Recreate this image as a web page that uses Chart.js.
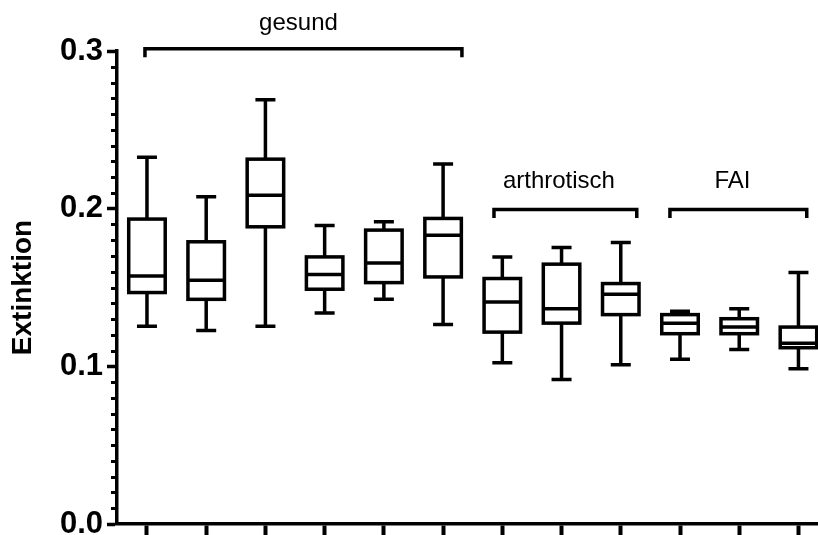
<!DOCTYPE html>
<html>
<head>
<meta charset="utf-8">
<script src="https://cdn.jsdelivr.net/npm/chart.js@4/dist/chart.umd.min.js"></script>
<style>
html,body{margin:0;padding:0;background:#fff;overflow:hidden;}
canvas{display:block;}
</style>
</head>
<body>
<canvas id="c" width="818" height="535"></canvas>
<script>
// ---- data ----
const categories = ['gesund 1','gesund 2','gesund 3','gesund 4','gesund 5','gesund 6',
                    'arthrotisch 1','arthrotisch 2','arthrotisch 3',
                    'FAI 1','FAI 2','FAI 3'];
const whiskerMax = [0.2326,0.2076,0.2691,0.1894,0.1917,0.2284,0.1694,0.1754,0.1786,0.1349,0.1366,0.1595];
const q3Values   = [0.1934,0.1790,0.2314,0.1694,0.1864,0.1938,0.1557,0.1648,0.1525,0.1328,0.1302,0.1249];
const medians    = [0.1573,0.1546,0.2085,0.1582,0.1656,0.1832,0.1408,0.1366,0.1457,0.1274,0.1249,0.1147];
const q1Values   = [0.1468,0.1425,0.1885,0.1489,0.1531,0.1567,0.1217,0.1274,0.1328,0.1207,0.1207,0.1118];
const whiskerMin = [0.1255,0.1228,0.1255,0.1338,0.1425,0.1266,0.1022,0.0916,0.1010,0.1045,0.1107,0.0984];
const yTickValues = [0, 0.1, 0.2, 0.3];
const groupNames = ['gesund', 'arthrotisch', 'FAI'];

// ---- layout of group brackets (x in category units, y in axis units) ----
const groupLayout = [
  {x1: 0.966, x2: 6.318, y: 0.3015, labelX: 3.558, labelY: 0.3133},
  {x1: 6.859, x2: 9.27,  y: 0.1995, labelX: 7.956, labelY: 0.2131},
  {x1: 9.83,  x2: 12.14, y: 0.1995, labelX: 10.885, labelY: 0.2131}
];

const FONT = "'Liberation Sans', Arial, Helvetica, sans-serif";
const LW = 3.5;
Chart.defaults.font.family = FONT;
Chart.defaults.color = '#000';

const boxData = categories.map((c, i) => ({x: i + 1, y: [q1Values[i], q3Values[i]]}));

const boxExtras = {
  id: 'boxExtras',
  beforeDatasetsDraw(chart) {
    const {ctx, scales: {x, y}} = chart;
    ctx.save();
    ctx.strokeStyle = '#000';
    ctx.lineWidth = LW;
    ctx.lineCap = 'butt';
    categories.forEach((c, i) => {
      const px = x.getPixelForValue(i + 1);
      const yMax = y.getPixelForValue(whiskerMax[i]);
      const yMin = y.getPixelForValue(whiskerMin[i]);
      ctx.beginPath();
      ctx.moveTo(px, yMax); ctx.lineTo(px, yMin);
      ctx.moveTo(px - 10, yMax); ctx.lineTo(px + 10, yMax);
      ctx.moveTo(px - 10, yMin); ctx.lineTo(px + 10, yMin);
      ctx.stroke();
    });
    ctx.restore();
  },
  afterDatasetsDraw(chart) {
    const {ctx, scales: {x, y}} = chart;
    ctx.save();
    ctx.strokeStyle = '#000';
    ctx.lineWidth = LW;
    ctx.lineJoin = 'miter';
    // box outlines, centred on the quartile values
    chart.getDatasetMeta(0).data.forEach(bar => {
      const {x: bx, y: by, base, width} = bar.getProps(['x', 'y', 'base', 'width'], true);
      const top = Math.min(by, base), h = Math.abs(base - by);
      ctx.strokeRect(bx - width / 2, top, width, h);
    });
    // medians
    categories.forEach((c, i) => {
      const px = x.getPixelForValue(i + 1);
      const pm = y.getPixelForValue(medians[i]);
      ctx.beginPath();
      ctx.moveTo(px - 18, pm); ctx.lineTo(px + 18, pm);
      ctx.stroke();
    });
    ctx.restore();
  },
  afterDraw(chart) {
    const {ctx, scales: {x, y}} = chart;
    ctx.save();
    // minor y ticks every 0.01
    ctx.strokeStyle = '#000';
    ctx.lineWidth = 3;
    const axisX = y.right;
    for (let k = 1; k < 30; k++) {
      if (k % 10 === 0) continue;
      const py = Math.round(y.getPixelForValue(k / 100)) + 0.5;
      ctx.beginPath();
      ctx.moveTo(axisX - 6, py); ctx.lineTo(axisX - 1, py);
      ctx.stroke();
    }
    // group brackets and labels
    ctx.lineWidth = LW;
    ctx.lineJoin = 'miter';
    ctx.font = '24px ' + FONT;
    ctx.fillStyle = '#000';
    ctx.textAlign = 'center';
    ctx.textBaseline = 'alphabetic';
    groupLayout.forEach((g, i) => {
      const xa = x.getPixelForValue(g.x1), xb = x.getPixelForValue(g.x2);
      const yb = y.getPixelForValue(g.y);
      ctx.beginPath();
      ctx.moveTo(xa, yb + 8.5); ctx.lineTo(xa, yb); ctx.lineTo(xb, yb); ctx.lineTo(xb, yb + 8.5);
      ctx.stroke();
      ctx.fillText(groupNames[i], x.getPixelForValue(g.labelX), y.getPixelForValue(g.labelY));
    });
    ctx.restore();
  }
};

new Chart(document.getElementById('c'), {
  type: 'bar',
  data: {
    datasets: [{
      label: 'Extinktion',
      data: boxData,
      backgroundColor: '#fff',
      borderWidth: 0,
      barThickness: 36.5,
      inflateAmount: 0
    }]
  },
  options: {
    responsive: false,
    animation: false,
    devicePixelRatio: 1,
    layout: {padding: {top: 51, left: 0, right: 0, bottom: 0}},
    plugins: {legend: {display: false}, tooltip: {enabled: false}},
    scales: {
      x: {
        type: 'linear',
        offset: false,
        min: 0.494,
        max: 12.33,
        afterBuildTicks: s => { s.ticks = categories.map((c, i) => ({value: i + 1})); },
        ticks: {display: false},
        grid: {display: true, offset: false, drawOnChartArea: false, tickLength: 12, tickWidth: 4, tickColor: '#000'},
        border: {display: true, width: 3.5, color: '#000'},
        afterFit: s => { s.height = 11; s.paddingLeft = 0; s.paddingRight = 0; }
      },
      y: {
        min: 0,
        max: 0.3,
        afterBuildTicks: s => { s.ticks = yTickValues.map(v => ({value: v})); },
        ticks: {
          font: {size: 31, weight: 'bold'},
          color: '#000',
          padding: 4,
          callback: v => Number(v).toFixed(1)
        },
        grid: {display: true, drawOnChartArea: false, tickLength: 10, tickWidth: 3.5, tickColor: '#000'},
        border: {display: true, width: 3.5, color: '#000'},
        title: {display: true, text: 'Extinktion', font: {size: 28, weight: 'bold'}, color: '#000', padding: {top: 6, bottom: 0}},
        afterFit: s => { s.width = 117; s.paddingTop = 0; s.paddingBottom = 0; }
      }
    }
  },
  plugins: [boxExtras]
});
</script>
</body>
</html>
